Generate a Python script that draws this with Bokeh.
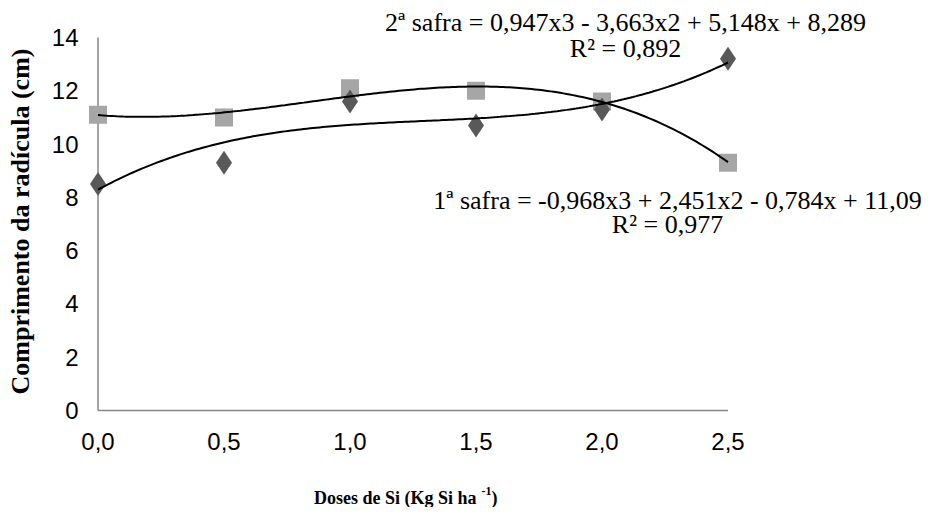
import numpy as np
from bokeh.plotting import figure
from bokeh.models import Range1d
from bokeh.core.properties import value
from bokeh.embed import file_html
from bokeh.resources import INLINE

# ---- data ----
doses = [0.0, 0.5, 1.0, 1.5, 2.0, 2.5]
dose_labels = ["0,0", "0,5", "1,0", "1,5", "2,0", "2,5"]
safra1 = [11.1, 11.0, 12.1, 12.0, 11.6, 9.3]     # grey squares
safra2 = [8.5, 9.3, 11.6, 10.7, 11.3, 13.2]      # dark diamonds
y_ticks = [0, 2, 4, 6, 8, 10, 12, 14]
y_tick_labels = ["0", "2", "4", "6", "8", "10", "12", "14"]
coef1 = [-0.968, 2.451, -0.784, 11.09]           # 1ª safra trendline
coef2 = [0.947, -3.663, 5.148, 8.289]            # 2ª safra trendline
eq1 = "1ª safra = -0,968x3 + 2,451x2 - 0,784x + 11,09"
r1 = "R² = 0,977"
eq2 = "2ª safra = 0,947x3 - 3,663x2 + 5,148x + 8,289"
r2 = "R² = 0,892"
xtitle_main = "Doses de Si (Kg Si ha"
xtitle_sup = "-1"
xtitle_end = ")"
ytitle = "Comprimento da radícula (cm)"

SERIF = "Liberation Serif"
SANS = "Liberation Sans"

# pixel layout of the plot area (layout only, canvas pixels)
PX0, PXU = 97.5, 252.0      # x of dose 0, pixels per dose unit
PY0, PYU = 410.0, 26.64     # y of value 0, pixels per value unit
W, H = 924, 507

def dx(px):
    return (px - PX0) / PXU

def dy(py):
    return (PY0 - py) / PYU

p = figure(width=W, height=H, output_backend="svg", toolbar_location=None,
           x_range=Range1d(dx(0), dx(W)), y_range=Range1d(dy(H), dy(0)),
           min_border=0)
p.outline_line_color = None
p.axis.visible = False
p.xgrid.visible = False
p.ygrid.visible = False
p.background_fill_color = "white"
p.border_fill_color = "white"

# axis lines
p.segment(x0=[doses[0], doses[0]], y0=[y_ticks[0], y_ticks[0]],
          x1=[doses[0], doses[-1]], y1=[y_ticks[-1], y_ticks[0]],
          line_color="#868686", line_width=1.5)

# tick labels
p.text(x=doses, y=[dy(441)] * len(doses), text=dose_labels,
       text_font=value(SANS), text_font_size="24px", text_color="black",
       text_align="center", text_baseline="middle")
p.text(x=[dx(78)] * len(y_ticks), y=y_ticks, text=y_tick_labels,
       text_font=value(SANS), text_font_size="24px", text_color="black",
       text_align="right", text_baseline="middle")

# markers
p.scatter(doses, safra1, marker="square", size=18, fill_color="#A6A6A6", line_color=None)
p.scatter(doses, safra2, marker="diamond", size=24, fill_color="#595959", line_color=None)

# trendlines
xs = np.linspace(doses[0], doses[-1], 200)
p.line(xs, np.polyval(coef1, xs), line_color="black", line_width=2)
p.line(xs, np.polyval(coef2, xs), line_color="black", line_width=2)

def lab(px, py, t, size, align="center", style="normal", angle=0.0):
    p.text(x=[dx(px)], y=[dy(py)], text=[t], text_font=value(SERIF),
           text_font_size=size, text_font_style=style, text_color="black",
           text_align=align, text_baseline="middle", angle=angle)

# equations
lab(625, 22, eq2, "26px")
lab(625, 48, r2, "26px")
lab(677, 200, eq1, "26px")
lab(667, 224, r1, "26px")

# axis titles
lab(476, 497, xtitle_main, "18px", align="right", style="bold")
lab(481, 490, xtitle_sup, "12px", align="left", style="bold")
lab(491, 497, xtitle_end, "18px", align="left", style="bold")
lab(20, 221, ytitle, "26px", style="bold", angle=np.pi / 2)

open("out.html", "w").write(file_html(p, INLINE))
